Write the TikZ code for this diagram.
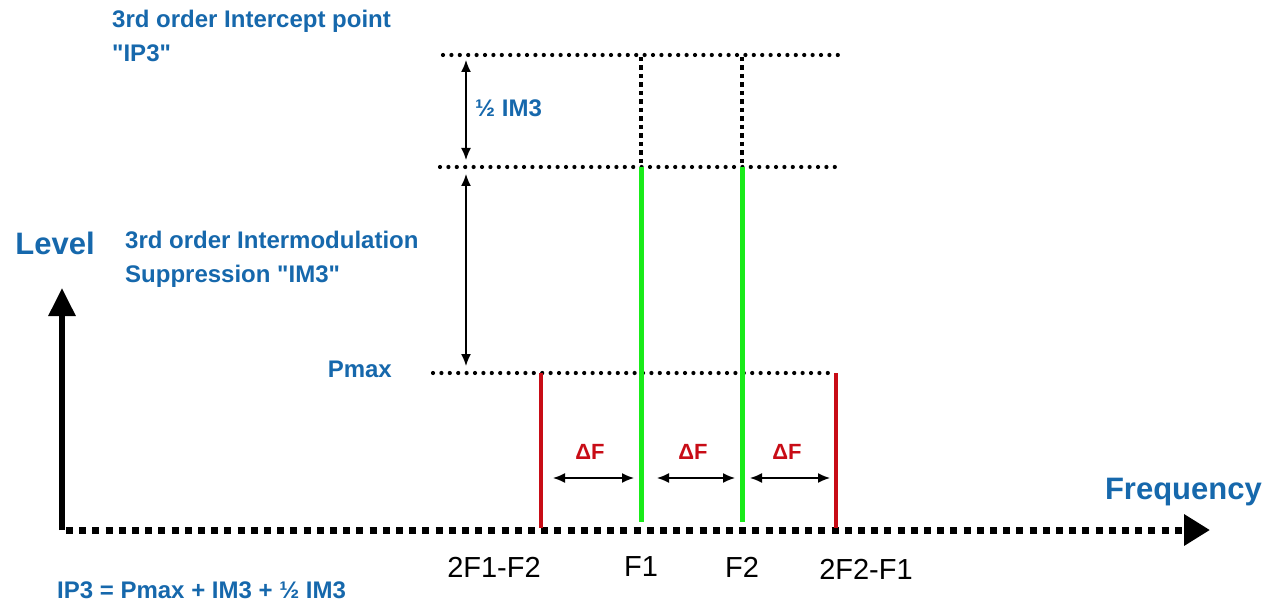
\documentclass[tikz,border=0pt]{standalone}
\usepackage{fontspec}
\setmainfont{Liberation Sans}
\usepackage{xcolor}
\usepackage{tikz}
\usetikzlibrary{arrows.meta, positioning}
\definecolor{labelblue}{RGB}{22,104,172}
\definecolor{tonegreen}{RGB}{25,235,25}
\definecolor{imdred}{RGB}{200,12,22}

\begin{document}
\begin{tikzpicture}[
    x=1pt, y=-1pt,
    bluetext/.style={font=\fontsize{24}{34}\selectfont\bfseries, text=labelblue, inner sep=0pt, align=left},
    biglabel/.style={font=\fontsize{31}{36}\selectfont\bfseries, text=labelblue, inner sep=0pt},
    axislabel/.style={font=\fontsize{29}{32}\selectfont, text=black, inner sep=0pt},
    dflabel/.style={font=\fontsize{22}{26}\selectfont\bfseries, text=imdred, inner sep=0pt},
    levelline/.style={line width=4.2pt, dash pattern=on 0pt off 8.4pt, line cap=round},
    tonestub/.style={line width=4.5pt, dash pattern=on 4.5pt off 4pt},
    tone/.style={line width=5pt, draw=tonegreen},
    imd/.style={line width=4.5pt, draw=imdred},
    span/.style={line width=1.5pt, {Latex[length=12pt,width=10pt]}-{Latex[length=12pt,width=10pt]}},
]
    \useasboundingbox (0,0) rectangle (1265,604);

    % axes
    \coordinate (origin) at (62,530);
    \coordinate (levelTip) at (62,288);
    \coordinate (freqStart) at (66,530);
    \coordinate (freqTip) at (1210,530);
    \draw[line width=6pt, -{Triangle[length=28pt,width=26pt]}] (origin) -- (levelTip);
    \draw[line width=7pt, dash pattern=on 7pt off 6.2pt, -{Triangle[length=26pt,width=30pt]}] (freqStart) -- (freqTip);
    \node[biglabel] (level) at (55,243) {Level};
    \node[biglabel, anchor=east] (freq) at (1262,492) {Frequency};

    % power levels
    \coordinate (ip3L) at (443,55);
    \coordinate (ip3R) at (846,55);
    \coordinate (toneL) at (440,167);
    \coordinate (toneR) at (841,167);
    \coordinate (pmaxL) at (433,373);
    \coordinate (pmaxR) at (836,373);
    \draw[levelline] (ip3L) -- (ip3R);
    \draw[levelline] (toneL) -- (toneR);
    \draw[levelline] (pmaxL) -- (pmaxR);

    % tones F1, F2
    \coordinate (f1ip) at (641,57);
    \coordinate (f1top) at (641,167);
    \coordinate (f1base) at (641,522);
    \coordinate (f2ip) at (742,57);
    \coordinate (f2top) at (742,167);
    \coordinate (f2base) at (742,522);
    \draw[tonestub] (f1ip) -- (f1top);
    \draw[tonestub] (f2ip) -- (f2top);
    \draw[tone] (f1top) -- (f1base);
    \draw[tone] (f2top) -- (f2base);

    % intermodulation products
    \coordinate (imdLtop) at (541,373);
    \coordinate (imdLbase) at (541,528);
    \coordinate (imdRtop) at (836,373);
    \coordinate (imdRbase) at (836,528);
    \draw[imd] (imdLtop) -- (imdLbase);
    \draw[imd] (imdRtop) -- (imdRbase);

    % level spans
    \coordinate (halfTop) at (466,60);
    \coordinate (halfBot) at (466,160);
    \coordinate (im3Top) at (466,174);
    \coordinate (im3Bot) at (466,366);
    \draw[span] (halfTop) -- (halfBot);
    \draw[span] (im3Top) -- (im3Bot);

    % spacing spans
    \coordinate (d1a) at (553,478);
    \coordinate (d1b) at (634,478);
    \coordinate (d2a) at (657,478);
    \coordinate (d2b) at (735,478);
    \coordinate (d3a) at (750,478);
    \coordinate (d3b) at (830,478);
    \draw[span] (d1a) -- (d1b);
    \draw[span] (d2a) -- (d2b);
    \draw[span] (d3a) -- (d3b);
    \node[dflabel] (df1) at (590,452) {ΔF};
    \node[dflabel] (df2) at (693,452) {ΔF};
    \node[dflabel] (df3) at (787,452) {ΔF};

    % blue annotations
    \node[bluetext, anchor=west] (ip3) at (112,36) {3rd order Intercept point\\\textquotedbl IP3\textquotedbl};
    \node[bluetext, anchor=west] (im3) at (125,259) {3rd order Intermodulation\\Suppression \textquotedbl IM3\textquotedbl};
    \node[bluetext, anchor=east] (pmax) at (392,369) {Pmax};
    \node[bluetext, anchor=west] (half) at (475,108) {½ IM3};
    \node[bluetext, anchor=west] (formula) at (57,590) {IP3 = Pmax + IM3 + ½ IM3};

    % frequency labels
    \node[axislabel] (lblL) at (494,567) {2F1-F2};
    \node[axislabel] (lblF1) at (641,567) {F1};
    \node[axislabel] (lblF2) at (742,567) {F2};
    \node[axislabel] (lblR) at (866,569) {2F2-F1};
\end{tikzpicture}
\end{document}
